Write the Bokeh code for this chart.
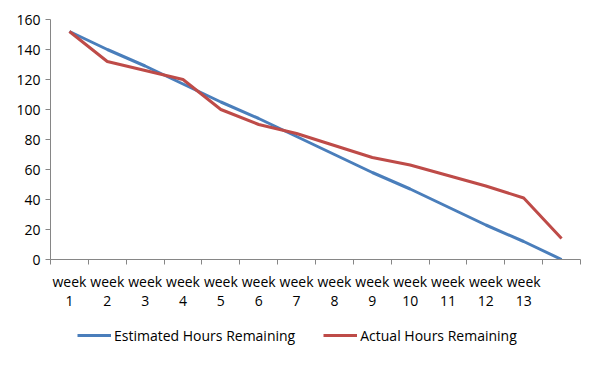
from bokeh.plotting import figure
from bokeh.models import FixedTicker, Range1d, Legend, LegendItem, ColumnDataSource, LinearAxis
from bokeh.layouts import column
from bokeh.embed import file_html
from bokeh.resources import INLINE

week_word = ["week", "week", "week", "week", "week", "week", "week",
             "week", "week", "week", "week", "week", "week", ""]
week_num = ["1", "2", "3", "4", "5", "6", "7", "8", "9", "10", "11", "12", "13", ""]
estimated = [152, 140, 129, 117, 105, 94, 82, 70, 58, 47, 35, 23, 12, 0]
actual = [152, 132, 126, 120, 100, 90, 84, 76, 68, 63, 56, 49, 41, 14]
y_ticks = [0, 20, 40, 60, 80, 100, 120, 140, 160]
series_names = ["Estimated Hours Remaining", "Actual Hours Remaining"]
series_colors = ["#4a7ebb", "#be4b48"]

xs = list(range(1, len(week_num) + 1))
src = ColumnDataSource(dict(x=xs, est=estimated, act=actual))

FONT = "Open Sans"
p = figure(frame_width=530, frame_height=240, output_backend="svg", toolbar_location=None,
           x_range=Range1d(0.5, len(xs) + 0.5), y_range=Range1d(0, 160),
           min_border_left=50, min_border_right=15, min_border_top=19, min_border_bottom=60)
p.outline_line_color = None
p.xgrid.visible = False
p.ygrid.visible = False

p.line("x", "est", source=src, line_color=series_colors[0], line_width=3)
p.line("x", "act", source=src, line_color=series_colors[1], line_width=3)

xa = p.xaxis[0]
xa.ticker = FixedTicker(ticks=xs, minor_ticks=[i + 0.5 for i in range(0, len(xs) + 1)])
xa.major_label_overrides = {x: w for x, w in zip(xs, week_word)}
xa.major_tick_out = 0
xa.major_tick_in = 0
xa.minor_tick_out = 5
xa.minor_tick_in = 0
xa.minor_tick_line_color = "#868686"
xa.axis_line_color = "#868686"
xa.major_label_standoff = 7
xa.major_label_text_font = FONT
xa.major_label_text_font_size = "14px"
xa.major_label_text_color = "#000000"

xa2 = LinearAxis(ticker=FixedTicker(ticks=xs, minor_ticks=[]),
                 major_label_overrides={x: n for x, n in zip(xs, week_num)},
                 axis_line_color=None, major_tick_line_color=None, minor_tick_line_color=None,
                 major_tick_out=0, major_tick_in=0, minor_tick_out=0, minor_tick_in=0,
                 major_label_standoff=2, major_label_text_font=FONT,
                 major_label_text_font_size="14px", major_label_text_color="#000000")
p.add_layout(xa2, "below")

ya = p.yaxis[0]
ya.ticker = FixedTicker(ticks=y_ticks, minor_ticks=[])
ya.major_tick_out = 5
ya.major_tick_in = 0
ya.major_tick_line_color = "#868686"
ya.axis_line_color = "#868686"
ya.major_label_standoff = 5
ya.major_label_text_font = FONT
ya.major_label_text_font_size = "14px"
ya.major_label_text_color = "#000000"

# legend strip below the chart (series drawn out of view; only the legend shows)
q = figure(width=597, height=40, output_backend="svg", toolbar_location=None,
           x_axis_type=None, y_axis_type=None, min_border=0,
           x_range=Range1d(0.5, len(xs) + 0.5), y_range=Range1d(1000, 1001))
q.outline_line_color = None
q.xgrid.visible = False
q.ygrid.visible = False
items = []
for name, col, key in zip(series_names, series_colors, ["est", "act"]):
    r = q.line("x", key, source=src, line_color=col, line_width=3)
    items.append(LegendItem(label=name, renderers=[r]))
legend = Legend(items=items, orientation="horizontal", location=(27, 14),
                glyph_width=34, label_standoff=3, spacing=28,
                label_text_font=FONT, label_text_font_size="14px", label_text_color="#000000",
                border_line_color=None, background_fill_alpha=0, margin=0, padding=4)
q.add_layout(legend, "center")

layout = column(p, q, spacing=0)
open("out.html", "w").write(file_html(layout, INLINE))
